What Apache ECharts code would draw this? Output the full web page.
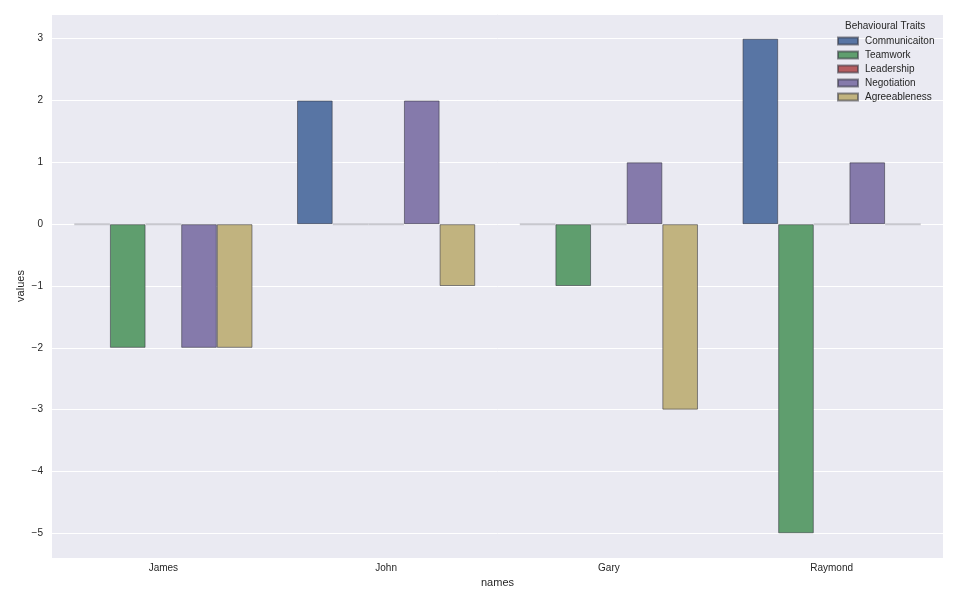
<!DOCTYPE html>
<html><head><meta charset="utf-8">
<script src="https://cdn.jsdelivr.net/npm/echarts@6/dist/echarts.min.js"></script>
<style>html,body{margin:0;padding:0;background:#fff}#c{width:961px;height:597px}</style>
</head><body><div id="c"></div>
<script>
const names = ['James', 'John', 'Gary', 'Raymond'];
const traits = ['Communicaiton', 'Teamwork', 'Leadership', 'Negotiation', 'Agreeableness'];
const communication = [0, 2, 0, 3];
const teamwork = [-2, 0, -1, -5];
const leadership = [0, 0, 0, 0];
const negotiation = [-2, 2, 1, 1];
const agreeableness = [-2, -1, -3, 0];
const yTicks = [-5, -4, -3, -2, -1, 0, 1, 2, 3];

const seriesValues = [communication, teamwork, leadership, negotiation, agreeableness];
const colors = ['#5875a4', '#5f9e6e', '#b55d60', '#857aab', '#c1b37f'];
const font = 'Liberation Sans, Arial, sans-serif';

const chart = echarts.init(document.getElementById('c'), null, {renderer: 'canvas'});
chart.setOption({
  animation: false,
  backgroundColor: '#ffffff',
  title: {
    text: 'Behavioural Traits', left: 840, top: 16,
    textStyle: {fontSize: 10, fontWeight: 'normal', color: '#262626', fontFamily: font}
  },
  legend: {
    orient: 'vertical', left: 832, top: 30,
    itemWidth: 20, itemHeight: 7, itemGap: 2,
    data: traits,
    textStyle: {fontSize: 10, color: '#262626', fontFamily: font, lineHeight: 12, padding: [0, 0, 0, 2]},
    icon: 'rect'
  },
  grid: {left: 52, right: 18, top: 14, bottom: 39, show: true, backgroundColor: '#eaeaf2', borderWidth: 0},
  xAxis: {
    type: 'category', data: names,
    name: 'names', nameLocation: 'middle', nameGap: 18,
    nameTextStyle: {fontSize: 11, color: '#262626', fontFamily: font},
    axisLine: {show: false}, axisTick: {show: false},
    axisLabel: {fontSize: 10, color: '#262626', fontFamily: font, margin: 5},
    splitLine: {show: false}
  },
  yAxis: {
    type: 'value', min: -5.4, max: 3.4, splitNumber: 8, minInterval: 1, maxInterval: 1,
    name: 'values', nameLocation: 'middle', nameGap: 26, nameMoveOverlap: false,
    nameTextStyle: {fontSize: 11, color: '#262626', fontFamily: font},
    axisLine: {show: false}, axisTick: {show: false},
    axisLabel: {
      fontSize: 10, color: '#262626', fontFamily: font, margin: 9,
      showMinLabel: false, showMaxLabel: false,
      formatter: v => yTicks.includes(Math.round(v * 10) / 10) ? String(Math.round(v)).replace('-', '\u2212') : ''
    },
    splitLine: {show: true, lineStyle: {color: '#ffffff', width: 1}}
  },
  series: traits.map((t, i) => ({
    name: t, type: 'bar',
    barGap: '0%', barCategoryGap: '20%',
    itemStyle: {color: colors[i], borderColor: 'rgba(50,50,60,0.55)', borderWidth: 1},
    data: seriesValues[i].map(v => v === 0
      ? {value: v, itemStyle: {borderColor: '#c8c8ce', borderWidth: 2}}
      : {value: v})
  }))
});
</script></body></html>
